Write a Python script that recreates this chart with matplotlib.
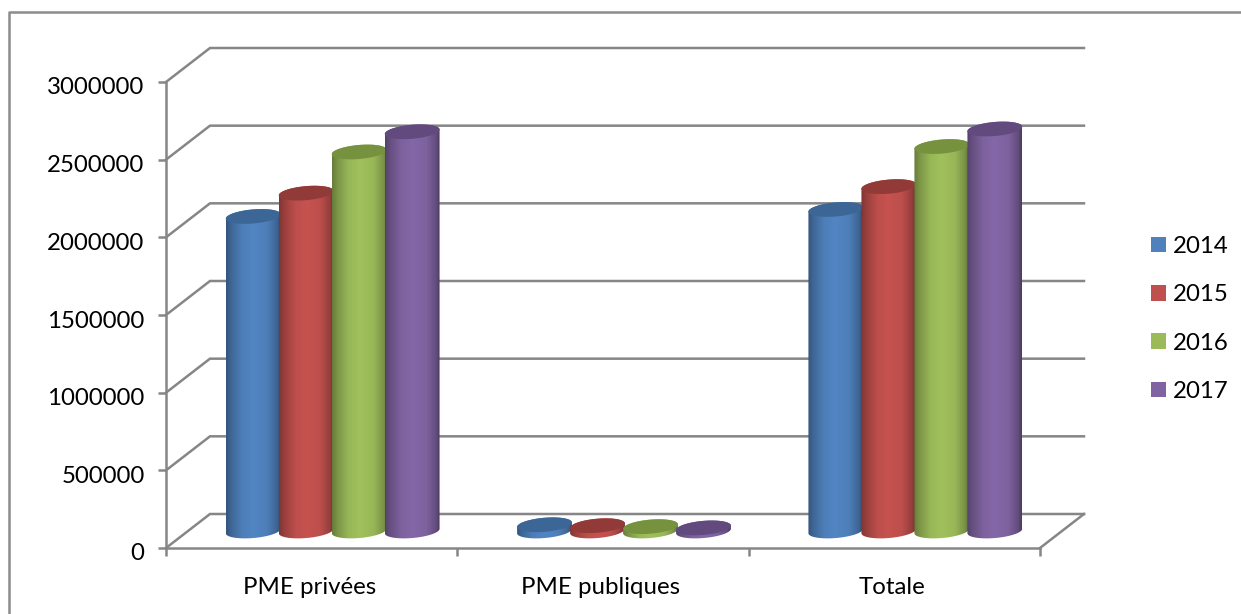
import numpy as np
import matplotlib
matplotlib.use("Agg")
import matplotlib.pyplot as plt
from matplotlib.lines import Line2D
from matplotlib.patches import Patch, PathPatch
from matplotlib.path import Path
from matplotlib.transforms import ScaledTranslation

categories = ["PME privées", "PME publiques", "Totale"]
years = ["2014", "2015", "2016", "2017"]
values_2014 = [2025000, 40000, 2070000]
values_2015 = [2175000, 34000, 2217000]
values_2016 = [2440000, 28000, 2475000]
values_2017 = [2570000, 20000, 2588000]
y_ticks = [0, 500000, 1000000, 1500000, 2000000, 2500000, 3000000]

base_colors = ["#4f81bd", "#c0504d", "#9bbb59", "#8064a2"]
top_colors = ["#3c6695", "#923a38", "#76923f", "#624a7e"]
grid_color = "#868686"

WIDTH, HEIGHT = 1241, 614
X0, Y0 = 166, 548
PX_PER_CAT = 291.33
PX_PER_UNIT = 466 / 3000000

plt.rcParams["font.family"] = ["Lato", "DejaVu Sans"]
plt.rcParams["font.size"] = 17.3

fig = plt.figure(figsize=(WIDTH / 100, HEIGHT / 100), dpi=100)
ax = fig.add_axes([0, 0, 1, 1])
x_lim = (-X0 / PX_PER_CAT, (WIDTH - X0) / PX_PER_CAT)
y_lim = ((Y0 - HEIGHT) / PX_PER_UNIT, Y0 / PX_PER_UNIT)

# depth of the fake 3D box, in data units
depth_x = 44 / PX_PER_CAT
depth_y = 34 / PX_PER_UNIT

# back wall and side wall gridlines
for tick in y_ticks:
    ax.plot([0, depth_x, 3 + depth_x], [tick, tick + depth_y, tick + depth_y],
            color=grid_color, lw=1.8, zorder=1, solid_joinstyle="miter")
ax.plot([3, 3 + depth_x], [0, depth_y], color=grid_color, lw=1.8, zorder=1)


def ellipse_points(cx, cy, t):
    # ellipse of the cylinder caps, tilted a little, sizes given in pixels
    a, b, tilt = 27.5, 7.0, np.radians(5)
    px = a * np.cos(t) * np.cos(tilt) - b * np.sin(t) * np.sin(tilt)
    py = a * np.cos(t) * np.sin(tilt) + b * np.sin(t) * np.cos(tilt)
    return np.column_stack([cx + px / PX_PER_CAT, cy + py / PX_PER_UNIT])


def cylinder(cx, value, color, top_color, z):
    base_y = depth_y / 2
    lower = ellipse_points(cx, base_y, np.linspace(np.pi, 2 * np.pi, 60))
    upper = ellipse_points(cx, base_y + value, np.linspace(0, np.pi, 60))
    body = Path(np.vstack([lower, upper, lower[:1]]), closed=True)
    clip = PathPatch(body, fc="none", ec="none", transform=ax.transData)
    ax.add_patch(clip)

    # horizontal shading across the body
    rgb = np.array(matplotlib.colors.to_rgb(color))
    stops = np.linspace(0, 1, 120)
    shade = np.interp(stops, [0, 0.1, 0.3, 0.5, 0.75, 0.93, 1], [0.66, 0.8, 0.98, 1.03, 0.98, 0.78, 0.6])
    strip = np.clip(shade[None, :, None] * rgb[None, None, :], 0, 1)
    half = 27.5 / PX_PER_CAT
    im = ax.imshow(strip, extent=(cx - half, cx + half, 0, base_y + value + depth_y), aspect="auto",
                   interpolation="bilinear", zorder=z)
    im.set_clip_path(clip)

    cap = ellipse_points(cx, base_y + value, np.linspace(0, 2 * np.pi, 120))
    ax.fill(cap[:, 0], cap[:, 1], color=top_color, lw=0, zorder=z + 0.5)


series = [values_2014, values_2015, values_2016, values_2017]
bar_step = 53 / PX_PER_CAT
bar_shift = -1 / PX_PER_CAT
for s, vals in enumerate(series):
    for c, val in enumerate(vals):
        center = c + 0.5 + depth_x / 2 + (s - 1.5) * bar_step + bar_shift
        cylinder(center, val, base_colors[s], top_colors[s], 3 + c * 5 + s)

ax.set_xlim(x_lim)
ax.set_ylim(y_lim)
ax.patch.set_visible(False)

# axes at the front of the box
for side in ["top", "right"]:
    ax.spines[side].set_visible(False)
for side in ["left", "bottom"]:
    ax.spines[side].set_color(grid_color)
    ax.spines[side].set_linewidth(1.8)
ax.spines["left"].set_position(("data", 0))
ax.spines["bottom"].set_position(("data", 0))
ax.spines["left"].set_bounds(0, 3000000)
ax.spines["bottom"].set_bounds(0, 3)

ax.set_yticks(y_ticks)
ax.set_yticklabels([str(t) for t in y_ticks])
ax.tick_params(axis="y", length=6, width=1.8, color=grid_color, pad=9.5)
ax.set_xticks([0, 1, 2, 3])
ax.set_xticklabels([])
ax.tick_params(axis="x", length=6, width=1.8, color=grid_color)
ax.set_xticks([0.5, 1.5, 2.5], minor=True)
ax.set_xticklabels(categories, minor=True)
ax.tick_params(axis="x", which="minor", length=0, pad=20.7)

y_shift = ScaledTranslation(0, -4 / 100, fig.dpi_scale_trans)
for label in ax.get_yticklabels():
    label.set_transform(label.get_transform() + y_shift)
x_shift = ScaledTranslation(-2.5 / 100, 0, fig.dpi_scale_trans)
for label in ax.get_xticklabels(minor=True):
    label.set_transform(label.get_transform() + x_shift)

handles = [Patch(facecolor=col, edgecolor="none", label=yr) for col, yr in zip(base_colors, years)]
ax.legend(handles=handles, loc="center left", bbox_to_anchor=(1151 / WIDTH, 1 - 319 / HEIGHT), frameon=False,
          handlelength=0.63, handleheight=0.63, handletextpad=0.3, labelspacing=1.14, borderpad=0, borderaxespad=0)

# chart frame, only the top and left edges are inside the canvas
frame = Line2D([9 / WIDTH, 9 / WIDTH, 1], [0, 1 - 12 / HEIGHT, 1 - 12 / HEIGHT],
               transform=fig.transFigure, color="#8c8c8c", lw=1.8)
fig.add_artist(frame)

fig.savefig("out.png", dpi=100)
